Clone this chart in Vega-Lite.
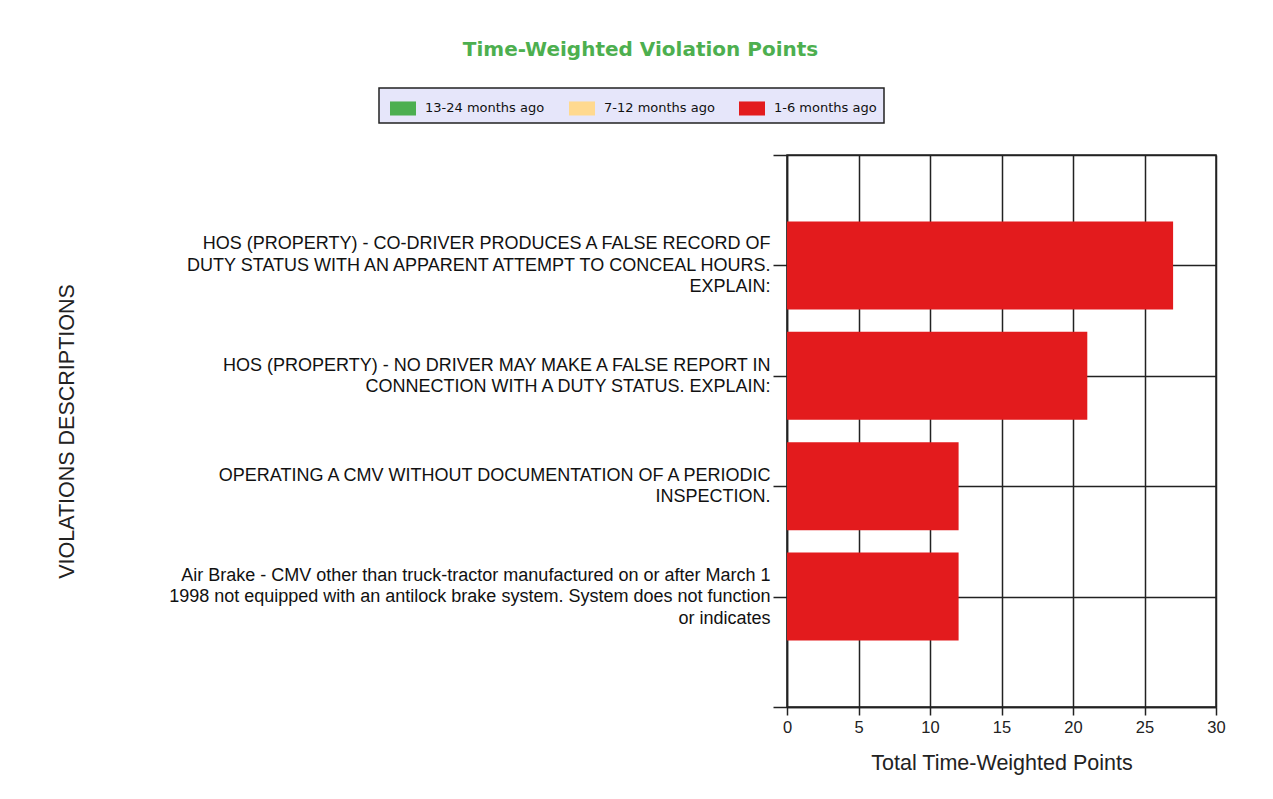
{
  "$schema": "https://vega.github.io/schema/vega-lite/v6.json",
  "autosize": {"type": "none"},
  "padding": {"left": 787, "top": 155, "right": 57, "bottom": 92},
  "width": 429,
  "height": 552,
  "background": "white",
  "title": {
    "text": "Time-Weighted Violation Points",
    "font": "DejaVu Sans",
    "fontSize": 20,
    "fontWeight": "bold",
    "color": "#4DAF4F",
    "anchor": "middle",
    "frame": "group",
    "dx": -361,
    "dy": -23
  },
  "data": {
    "values": [
      {"violation": "HOS (PROPERTY) - CO-DRIVER PRODUCES A FALSE RECORD OF\nDUTY STATUS WITH AN APPARENT ATTEMPT TO CONCEAL HOURS.\nEXPLAIN:", "period": "1-6 months ago", "points": 27},
      {"violation": "HOS (PROPERTY) - NO DRIVER MAY MAKE A FALSE REPORT IN\nCONNECTION WITH A DUTY STATUS. EXPLAIN:", "period": "1-6 months ago", "points": 21},
      {"violation": "OPERATING A CMV WITHOUT DOCUMENTATION OF A PERIODIC\nINSPECTION.", "period": "1-6 months ago", "points": 12},
      {"violation": "Air Brake - CMV other than truck-tractor manufactured on or after March 1\n1998 not equipped with an antilock brake system. System does not function\nor indicates", "period": "1-6 months ago", "points": 12}
    ]
  },
  "mark": {"type": "bar", "size": 88},
  "encoding": {
    "y": {
      "field": "violation",
      "type": "nominal",
      "scale": {
        "type": "point",
        "padding": 0,
        "domain": [
          "",
          "HOS (PROPERTY) - CO-DRIVER PRODUCES A FALSE RECORD OF\nDUTY STATUS WITH AN APPARENT ATTEMPT TO CONCEAL HOURS.\nEXPLAIN:",
          "HOS (PROPERTY) - NO DRIVER MAY MAKE A FALSE REPORT IN\nCONNECTION WITH A DUTY STATUS. EXPLAIN:",
          "OPERATING A CMV WITHOUT DOCUMENTATION OF A PERIODIC\nINSPECTION.",
          "Air Brake - CMV other than truck-tractor manufactured on or after March 1\n1998 not equipped with an antilock brake system. System does not function\nor indicates",
          " "
        ]
      },
      "axis": {
        "title": "VIOLATIONS DESCRIPTIONS",
        "titleFont": "Liberation Sans",
        "titleFontSize": 21.5,
        "titleFontWeight": "normal",
        "titleColor": "#222222",
        "titleX": -720,
        "titleY": 276,
        "titleAngle": -90,
        "titleAlign": "center",
        "titleBaseline": "middle",
        "labelExpr": "split(datum.value, '\\n')",
        "labelFont": "Liberation Sans",
        "labelFontSize": 18,
        "labelColor": "#111111",
        "labelLineHeight": 21.5,
        "labelAlign": "right",
        "labelBaseline": "middle",
        "labelLimit": 700,
        "labelPadding": 3,
        "labelOffset": {
          "condition": [
            {"test": "length(split(datum.value, '\\n')) == 3", "value": -21.5},
            {"test": "length(split(datum.value, '\\n')) == 2", "value": -10.75}
          ],
          "value": 0
        },
        "tickSize": 14,
        "tickColor": "#222222",
        "tickWidth": 1.5,
        "domainColor": "#222222",
        "domainWidth": 1.5,
        "grid": true,
        "gridColor": "#222222",
        "gridWidth": 1.5,
        "gridOpacity": 1
      }
    },
    "x": {
      "field": "points",
      "type": "quantitative",
      "stack": "zero",
      "scale": {"domain": [0, 30], "nice": false},
      "axis": {
        "title": "Total Time-Weighted Points",
        "titleFont": "Liberation Sans",
        "titleFontSize": 21.5,
        "titleFontWeight": "normal",
        "titleColor": "#222222",
        "titlePadding": 17,
        "values": [0, 5, 10, 15, 20, 25, 30],
        "labelFont": "Liberation Sans",
        "labelFontSize": 16.5,
        "labelColor": "#222222",
        "labelPadding": 4,
        "labelFlush": false,
        "tickSize": 8,
        "tickColor": "#222222",
        "tickWidth": 1.5,
        "domainColor": "#222222",
        "domainWidth": 1.5,
        "grid": true,
        "gridColor": "#222222",
        "gridWidth": 1.5,
        "gridOpacity": 1
      }
    },
    "color": {
      "field": "period",
      "type": "nominal",
      "scale": {
        "domain": ["13-24 months ago", "7-12 months ago", "1-6 months ago"],
        "range": ["#4CAF50", "#FFD98F", "#E31B1D"]
      },
      "legend": {
        "title": null,
        "orient": "none",
        "direction": "horizontal",
        "columns": 3,
        "legendX": -408,
        "legendY": -67,
        "fillColor": "#E6E6FA",
        "strokeColor": "#222222",
        "padding": 7,
        "columnPadding": 20,
        "symbolOffset": 4,
        "symbolType": "M-1,-0.54H1V0.54H-1Z",
        "symbolSize": 676,
        "symbolStrokeWidth": 0,
        "symbolOpacity": 1,
        "labelFont": "DejaVu Sans",
        "labelFontSize": 13,
        "labelColor": "#111111",
        "labelOffset": 9,
        "labelLimit": 300,
        "encode": {"legend": {"update": {"strokeWidth": {"value": 1.5}, "width": {"value": 524}}}}
      }
    }
  },
  "config": {
    "view": {"stroke": "#222222", "strokeWidth": 1.5}
  }
}
